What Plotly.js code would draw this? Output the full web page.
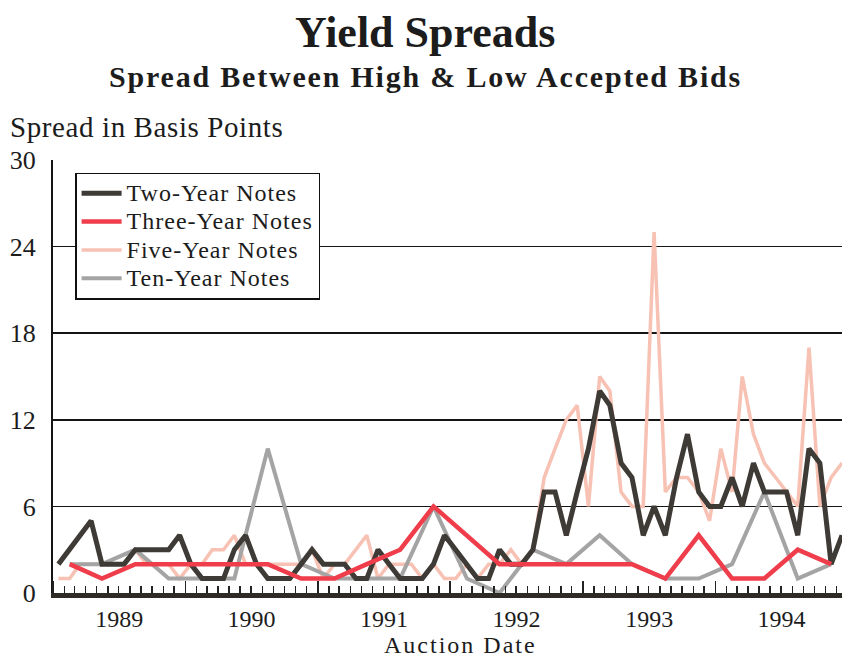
<!DOCTYPE html>
<html>
<head>
<meta charset="utf-8">
<script src="https://cdn.plot.ly/plotly-3.0.1.min.js"></script>
<style>
html,body{margin:0;padding:0;background:#fff;}
text.annotation-text[data-unformatted*="Accepted"]{letter-spacing:1.8px;}
text.annotation-text[data-unformatted*="Basis"]{letter-spacing:0.6px;}
text.annotation-text[data-unformatted*="Auction"]{letter-spacing:2px;}
</style>
</head>
<body>
<div id="chart" style="width:842px;height:658px;"></div>
<script>
// Auction months (mid-month dates)
const monthlyDates = [
 '1989-01-16','1989-02-16','1989-03-16','1989-04-16','1989-05-16','1989-06-16','1989-07-16','1989-08-16','1989-09-16','1989-10-16','1989-11-16','1989-12-16',
 '1990-01-16','1990-02-16','1990-03-16','1990-04-16','1990-05-16','1990-06-16','1990-07-16','1990-08-16','1990-09-16','1990-10-16','1990-11-16','1990-12-16',
 '1991-01-16','1991-02-16','1991-03-16','1991-04-16','1991-05-16','1991-06-16','1991-07-16','1991-08-16','1991-09-16','1991-10-16','1991-11-16','1991-12-16',
 '1992-01-16','1992-02-16','1992-03-16','1992-04-16','1992-05-16','1992-06-16','1992-07-16','1992-08-16','1992-09-16','1992-10-16','1992-11-16','1992-12-16',
 '1993-01-16','1993-02-16','1993-03-16','1993-04-16','1993-05-16','1993-06-16','1993-07-16','1993-08-16','1993-09-16','1993-10-16','1993-11-16','1993-12-16',
 '1994-01-16','1994-02-16','1994-03-16','1994-04-16','1994-05-16','1994-06-16','1994-07-16','1994-08-16','1994-09-16','1994-10-16','1994-11-16','1994-12-16'
];
const quarterlyDates = [
 '1989-02-16','1989-05-16','1989-08-16','1989-11-16',
 '1990-02-16','1990-05-16','1990-08-16','1990-11-16',
 '1991-02-16','1991-05-16','1991-08-16','1991-11-16',
 '1992-02-16','1992-05-16','1992-08-16','1992-11-16',
 '1993-02-16','1993-05-16','1993-08-16','1993-11-16',
 '1994-02-16','1994-05-16','1994-08-16','1994-11-16'
];

// Spread in basis points
const twoYear = [
 2,3,4,5,2,2,2,3,3,3,3,4,
 2,1,1,1,3,4,2,1,1,1,2,3,
 2,2,2,1,1,3,2,1,1,1,2,4,
 3,2,1,1,3,2,2,3,7,7,4,7,
 10,14,13,9,8,4,6,4,8,11,7,6,
 6,8,6,9,7,7,7,4,10,9,2,4
];
const fiveYear = [
 1,1,2,2,2,2,2,3,2,2,2,1,
 2,2,3,3,4,2,2,2,2,2,2,3,
 1,2,2,3,4,1,2,2,2,1,2,1,
 1,2,1,2,2,3,2,3,8,10,12,13,
 6,15,14,7,6,6,25,7,8,8,7,5,
 10,7,15,11,9,8,7,6,17,6,8,9
];
const threeYear = [2,1,2,2, 2,2,2,1, 1,2,3,6, 4,2,2,2, 2,2,1,4, 1,1,3,2];
const tenYear   = [2,2,3,1, 1,1,10,2, 1,1,1,6, 1,0,3,2, 4,2,1,1, 2,7,1,2];

const seriesNames = ['Two-Year Notes','Three-Year Notes','Five-Year Notes','Ten-Year Notes'];
const yTicks = [0,6,12,18,24,30];

const FONT = "'Liberation Serif', 'Times New Roman', serif";
const legendName = n => '<span style="font-size:24px;letter-spacing:1px">' + n + '</span>';

const traces = [
 {x: monthlyDates, y: fiveYear, name: legendName(seriesNames[2]), legendrank: 3, type:'scatter', mode:'lines',
  line:{color:'#f7c1b3', width:3.5}},
 {x: quarterlyDates, y: tenYear, name: legendName(seriesNames[3]), legendrank: 4, type:'scatter', mode:'lines',
  line:{color:'#a4a4a4', width:4}},
 {x: monthlyDates, y: twoYear, name: legendName(seriesNames[0]), legendrank: 1, type:'scatter', mode:'lines',
  line:{color:'#3e3a35', width:5}},
 {x: quarterlyDates, y: threeYear, name: legendName(seriesNames[1]), legendrank: 2, type:'scatter', mode:'lines',
  line:{color:'#ef3d4b', width:4.5}}
];

const layout = {
 width: 842, height: 658,
 margin: {l:53, r:0, t:160, b:65, pad:0},
 paper_bgcolor:'#ffffff', plot_bgcolor:'#ffffff',
 font: {family: FONT, color:'#1c1c1c'},
 title: {text:'<b>Yield Spreads</b>', font:{family: FONT, size:44, color:'#1c1c1c'},
   x:0.505, xref:'container', xanchor:'center', y:1-32/658, yref:'container', yanchor:'middle'},
 showlegend: true,
 legend: {x:0.028, y:0.971, xanchor:'left', yanchor:'top', bgcolor:'#ffffff',
   bordercolor:'#111111', borderwidth:1.5, font:{family: FONT, size:19.5, color:'#1c1c1c'},
   traceorder:'normal', itemwidth:40},
 xaxis: {type:'date', range:['1989-01-01','1994-12-16'], showline:true, linewidth:5, linecolor:'#2e2a26',
   ticks:'inside', ticklen:12, tickwidth:1.5, tickcolor:'#222222', dtick:'M12', tick0:'1989-01-01',
   tickformat:'%Y', ticklabelmode:'period', tickfont:{family: FONT, size:24, color:'#1c1c1c'},
   showgrid:false, zeroline:false, fixedrange:true,
   minor:{dtick:'M1', ticks:'inside', ticklen:7, tickwidth:1.5, tickcolor:'#222222', showgrid:false}},
 yaxis: {range:[0,30], tickvals: yTicks, showgrid:true, gridcolor:'#151515', gridwidth:1.5,
   showline:true, linewidth:2, linecolor:'#151515', ticks:'', ticklabelstandoff:10,
   tickfont:{family: FONT, size:26, color:'#1c1c1c'}, zeroline:false, fixedrange:true},
 annotations: [
  {text:'<b>Spread Between High & Low Accepted Bids</b>', xref:'paper', yref:'paper',
   x:(425-53)/789, y:(593-76)/433.5, xanchor:'center', yanchor:'middle', showarrow:false,
   font:{family: FONT, size:30, color:'#1c1c1c'}},
  {text:'Spread in Basis Points', xref:'paper', yref:'paper',
   x:(8-53)/789, y:(593-126)/433.5, xanchor:'left', yanchor:'middle', showarrow:false,
   font:{family: FONT, size:29, color:'#1c1c1c'}},
  {text:'Auction Date', xref:'paper', yref:'paper',
   x:(460-53)/789, y:(593-645)/433.5, xanchor:'center', yanchor:'middle', showarrow:false,
   font:{family: FONT, size:24, color:'#1c1c1c'}}
 ]
};

Plotly.newPlot('chart', traces, layout, {displayModeBar:false, staticPlot:true});
</script>
</body>
</html>
